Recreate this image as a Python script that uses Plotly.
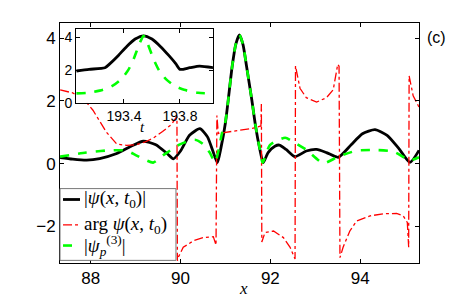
import plotly.graph_objects as go

# ---- main panel data ----
x_abs = [87.32, 87.6, 87.91, 88.2, 88.58, 88.9, 89.17, 89.45, 89.7, 89.84, 90.0, 90.2, 90.43,
         90.6, 90.72, 90.82, 90.9, 91.0, 91.06, 91.15, 91.23, 91.31, 91.39, 91.47, 91.59, 91.67,
         91.76, 91.84, 91.95, 92.1, 92.2, 92.35, 92.55, 92.8, 93.03, 93.25, 93.51, 93.8, 94.05,
         94.33, 94.6, 94.85, 95.11, 95.31]
abs_psi = [0.19, 0.14, 0.11, 0.16, 0.32, 0.55, 0.71, 0.6, 0.32, 0.15, 0.4, 0.9, 1.11,
           0.85, 0.4, 0.03, 0.5, 1.3, 2.0, 3.1, 3.8, 4.1, 3.8, 3.1, 2.0, 1.2,
           0.5, 0.03, 0.35, 0.55, 0.59, 0.45, 0.22, 0.4, 0.45, 0.35, 0.2, 0.6, 0.95,
           1.08, 0.9, 0.5, 0.04, 0.42]

x_arg = [87.32, 87.6, 87.85, 88.05, 88.2, 88.35, 88.58, 88.8, 89.0, 89.2, 89.4, 89.6, 89.8,
         89.92, 89.93, 89.95, 90.06, 90.29, 90.51, 90.73, 90.79, 90.81, 90.84, 91.0, 91.3,
         91.6, 91.79, 91.80, 91.81, 91.88, 92.07, 92.29, 92.44, 92.55, 92.56, 92.66, 92.8,
         93.03, 93.25, 93.4, 93.5, 93.53, 93.55, 93.62, 93.77, 93.92, 94.22, 94.51, 94.81,
         94.96, 95.05, 95.08, 95.09, 95.18, 95.31]
arg_psi = [2.35, 2.25, 2.05, 1.7, 1.35, 1.0, 0.62, 0.58, 0.6, 0.68, 0.82, 1.02, 1.25,
           1.5, -3.1, -2.99, -2.67, -2.46, -2.36, -2.33, -2.6, 1.53, 0.96, 0.99, 1.05,
           1.12, 1.2, 1.9, -2.5, -2.2, -2.15, -2.36, -2.67, -3.04, 3.11, 2.4, 2.1,
           1.96, 2.1, 2.35, 3.16, 3.1, -3.0, -2.67, -2.15, -1.83, -1.67, -1.6, -1.59,
           -1.67, -1.88, -2.67, 2.8, 2.16, 1.8]

x_p3 = [87.32, 87.9, 88.4, 88.8, 89.0, 89.2, 89.39, 89.65, 89.9, 90.0, 90.32, 90.5, 90.65,
        90.77, 90.85, 90.92, 91.0, 91.06, 91.15, 91.23, 91.31, 91.39, 91.47, 91.59, 91.67,
        91.76, 91.83, 91.99, 92.33, 92.51, 92.81, 93.18, 93.51, 93.92, 94.37, 94.74, 95.11, 95.31]
abs_p3 = [0.22, 0.35, 0.42, 0.41, 0.27, 0.13, 0.03, 0.3, 0.54, 0.62, 0.76, 0.62, 0.35,
          0.04, 0.45, 0.95, 1.35, 2.0, 3.1, 3.8, 4.1, 3.8, 3.1, 2.0, 1.2,
          0.5, 0.03, 0.59, 0.82, 0.69, 0.43, 0.01, 0.22, 0.41, 0.43, 0.38, 0.11, 0.2]

# ---- inset data ----
t_abs = [193.06, 193.15, 193.264, 193.3, 193.36, 193.42, 193.48, 193.54, 193.6, 193.66,
         193.72, 193.77, 193.8, 193.87, 193.94, 194.04]
abs_t = [1.95, 2.05, 2.15, 2.4, 2.9, 3.45, 3.9, 4.1, 3.9, 3.45, 2.9, 2.4, 2.05, 2.15, 2.25, 2.15]
t_p3 = [193.06, 193.15, 193.25, 193.32, 193.38, 193.43, 193.47, 193.51, 193.54, 193.57,
        193.61, 193.65, 193.70, 193.76, 193.83, 193.93, 194.04]
p3_t = [0.58, 0.62, 0.8, 1.05, 1.45, 2.0, 2.7, 3.6, 4.1, 3.6, 2.7, 2.0, 1.45, 1.05, 0.8, 0.62, 0.58]

x_ticks = [88, 90, 92, 94]
y_ticks = [-2, 0, 2, 4]
t_ticks = [193.4, 193.8]
yi_ticks = [0, 2, 4]

names = ["|<i>ψ</i>(<i>x</i>, <i>t</i><sub>0</sub>)|",
         "arg <i>ψ</i>(<i>x</i>, <i>t</i><sub>0</sub>)",
         "|<i>ψ</i><sub><i>p</i></sub><sup>(3)</sup>|"]

BLACK = dict(color="black", width=2.8)
RED = dict(color="red", width=1.3, dash="dashdot")
GREEN = dict(color="#00ff00", width=2.6, dash="dash")

fig = go.Figure()
fig.add_trace(go.Scatter(x=x_abs, y=abs_psi, mode="lines", name=names[0], showlegend=False,
                         line=dict(**BLACK, shape="spline", smoothing=0.6)))
fig.add_trace(go.Scatter(x=x_arg, y=arg_psi, mode="lines", name=names[1], showlegend=False,
                         line=RED))
fig.add_trace(go.Scatter(x=x_p3, y=abs_p3, mode="lines", name=names[2], showlegend=False,
                         line=dict(**GREEN, shape="spline", smoothing=0.6)))
fig.add_trace(go.Scatter(x=t_abs, y=abs_t, mode="lines", showlegend=False,
                         xaxis="x2", yaxis="y2",
                         line=dict(**BLACK, shape="spline", smoothing=0.6)))
fig.add_trace(go.Scatter(x=t_p3, y=p3_t, mode="lines", showlegend=False,
                         xaxis="x2", yaxis="y2",
                         line=dict(**GREEN, shape="spline", smoothing=0.6)))

axis_common = dict(showgrid=False, zeroline=False, showline=True, linecolor="black",
                   linewidth=1, mirror="ticks", ticks="inside", tickcolor="black",
                   ticklen=4, tickfont=dict(family="Liberation Sans, Arial", size=17, color="black"))
inset_font = dict(family="Liberation Sans, Arial", size=14, color="black")

# legend box (drawn as a framed panel inside the plot area)
leg_x0, leg_x1, leg_y0, leg_y1 = 0.0, 0.323, 0.011, 0.31
sample_x0, sample_x1, text_x = 0.0084, 0.0557, 0.062
entry_y = [0.2646, 0.159, 0.0728]
line_styles = [BLACK, RED, GREEN]

shapes = [dict(type="rect", xref="paper", yref="paper", x0=leg_x0, x1=leg_x1, y0=leg_y0, y1=leg_y1,
               fillcolor="white", line=dict(color="#777777", width=1), layer="above")]
annotations = []
for ey, st, nm in zip(entry_y, line_styles, names):
    shapes.append(dict(type="line", xref="paper", yref="paper", x0=sample_x0, x1=sample_x1,
                       y0=ey, y1=ey, line=st, layer="above"))
    annotations.append(dict(text=nm, x=text_x, y=ey, xref="paper", yref="paper", showarrow=False,
                            xanchor="left", yanchor="middle",
                            font=dict(family="Liberation Serif, serif", size=19, color="black")))

annotations += [
    dict(text="<i>x</i>", x=0.51, y=-0.105, xref="paper", yref="paper", showarrow=False,
         font=dict(family="Liberation Serif, serif", size=17, color="black"),
         xanchor="center", yanchor="middle"),
    dict(text="<i>t</i>", x=0.231, y=0.568, xref="paper", yref="paper", showarrow=False,
         font=dict(family="Liberation Serif, serif", size=15, color="black"),
         xanchor="center", yanchor="middle"),
    dict(text="(c)", x=1.05, y=0.938, xref="paper", yref="paper", showarrow=False,
         font=dict(family="Liberation Sans, Arial", size=16, color="black"),
         xanchor="center", yanchor="middle"),
]

# page body adds an 8px offset; figure sized so the plot area lands where the reference has it
fig.update_layout(
    width=455, height=292,
    margin=dict(l=52, r=44, t=15, b=34),
    paper_bgcolor="white", plot_bgcolor="white",
    xaxis=dict(range=[87.316, 95.31], tickvals=x_ticks, domain=[0, 1], **axis_common),
    yaxis=dict(range=[-3.17, 4.48], tickvals=y_ticks, domain=[0, 1], **axis_common),
    xaxis2=dict(range=[193.057, 194.036], tickvals=t_ticks, domain=[0.0446, 0.426],
                anchor="y2", **{**axis_common, "tickfont": inset_font}),
    yaxis2=dict(range=[0, 4.5], tickvals=yi_ticks, domain=[0.667, 0.974],
                anchor="x2", **{**axis_common, "tickfont": inset_font}),
    showlegend=False,
    shapes=shapes,
    annotations=annotations,
)

fig.write_html("out.html")
